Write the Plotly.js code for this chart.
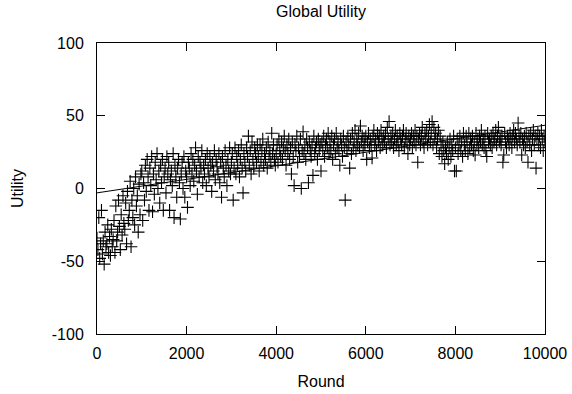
<!DOCTYPE html>
<html>
<head>
<meta charset="utf-8">
<script src="https://cdn.plot.ly/plotly-3.0.1.min.js"></script>
<style>html,body{margin:0;padding:0;background:#fff;}#chart{width:572px;height:394px;}</style>
</head>
<body>
<div id="chart"></div>
<script>
// Sampling step of the plotted rounds
const roundStep = 20;
// Global utility observed at each sampled round (0, 20, 40, ... 10000)
const utility = [
  // 0 - 980
  -34,-42,-20,-48,-38,-15,-45,-36,-52,-30,-40,
  -38,-25,-44,-33,-46,-28,-40,-35,-22,-44,
  -12,-36,-30,-8,-26,-42,-18,-32,-5,-24,
  -28,-10,-38,-2,-22,-15,5,-40,-8,-20,
  0,-25,8,-12,-5,-30,3,-18,10,
  // 1000 - 1980
  12,-22,4,-8,16,-2,20,8,-15,14,
  2,22,-16,10,-4,18,6,24,0,12,
  -10,16,4,20,-15,8,14,-3,22,10,
  18,-15,6,12,2,24,-20,16,8,-6,
  14,20,4,-21,10,18,0,22,-6,12,
  // 2000 - 2980
  8,-13,18,14,2,24,10,20,5,16,
  28,12,-4,22,8,18,14,26,4,16,
  10,20,2,24,14,8,22,16,-2,18,
  12,26,6,20,15,10,24,4,18,-6,
  22,14,8,26,16,2,20,12,28,10,
  // 3000 - 3980
  18,24,-8,14,28,10,22,16,26,8,
  20,30,14,-3,24,18,12,28,22,36,
  16,26,10,32,20,14,28,24,18,30,
  22,12,30,18,26,34,16,24,20,28,
  14,32,22,26,18,38,24,30,20,16,
  // 4000 - 4980
  24,30,18,34,26,22,32,20,28,36,
  26,16,30,24,34,20,28,10,32,22,
  2,30,26,36,18,28,22,34,0,26,
  39,24,30,20,34,28,4,32,26,22,
  30,9,36,24,28,32,20,34,26,30,
  // 5000 - 5980
  12,32,26,36,22,30,34,28,38,24,
  32,26,36,20,30,34,24,38,28,32,
  26,16,34,30,22,36,28,-8,32,26,
  36,30,14,34,24,38,28,32,40,26,
  34,30,38,28,43,32,36,26,34,30,
  // 6000 - 6980
  36,20,32,38,28,34,30,21,36,40,
  30,34,26,38,32,36,28,40,34,30,
  36,32,38,28,42,34,46,30,36,32,
  38,28,34,40,30,36,32,26,38,34,
  30,36,40,28,34,38,32,24,36,30,
  // 7000 - 7980
  34,38,28,36,32,40,30,36,18,34,
  38,30,36,42,32,28,38,34,40,30,
  36,44,32,38,46,30,42,34,38,28,
  34,40,24,36,30,22,32,26,17,28,
  24,32,20,28,34,22,30,26,36,12,
  // 8000 - 8980
  28,12,34,24,30,36,26,32,22,38,
  30,26,36,32,24,38,28,34,30,36,
  26,32,23,38,30,34,28,36,32,40,
  30,34,28,36,26,22,38,32,34,30,
  36,28,38,32,34,40,30,36,42,32,
  // 9000 - 10000
  34,30,36,18,23,38,32,28,36,34,
  30,38,34,28,36,40,32,38,34,30,
  45,36,32,38,23,34,30,36,28,38,
  32,18,36,30,38,26,34,40,30,36,
  14,34,38,30,36,28,40,34,26,36,
  32
];
// Fitted trend line endpoints
const fitRounds = [0, 10000];
const fitUtility = [-3, 43.5];
// Axis ticks
const xTicks = [0, 2000, 4000, 6000, 8000, 10000];
const yTicks = [-100, -50, 0, 50, 100];

const rounds = utility.map((_, i) => i * roundStep);

const font = {family: 'Liberation Sans, Arial, sans-serif', size: 16, color: '#000'};

const traces = [
  {
    x: rounds, y: utility, type: 'scatter', mode: 'markers',
    marker: {symbol: 'cross-thin-open', size: 9, color: '#000', line: {color: 'rgba(0,0,0,0.9)', width: 1.1}},
    hoverinfo: 'skip', showlegend: false
  },
  {
    x: fitRounds, y: fitUtility, type: 'scatter', mode: 'lines',
    line: {color: '#000', width: 1}, hoverinfo: 'skip', showlegend: false
  }
];

const axisCommon = {
  showgrid: false, zeroline: false, showline: true, mirror: 'allticks',
  linecolor: '#000', linewidth: 1, ticks: 'inside', ticklen: 8, tickwidth: 1, tickcolor: '#000',
  tickfont: font
};

const layout = {
  width: 572, height: 394,
  margin: {l: 97, r: 27, t: 43, b: 60},
  paper_bgcolor: '#fff', plot_bgcolor: '#fff',
  font: font,
  showlegend: false,
  title: {text: 'Global Utility', font: {family: font.family, size: 16, color: '#000'}, x: 0.5, xref: 'paper', y: 0.97, yref: 'container', yanchor: 'middle'},
  xaxis: Object.assign({}, axisCommon, {
    range: [0, 10000], tickvals: xTicks, ticktext: xTicks.map(String),
    ticklabelstandoff: 5,
    title: {text: 'Round', font: font, standoff: 14}
  }),
  yaxis: Object.assign({}, axisCommon, {
    range: [-100, 100], tickvals: yTicks, ticktext: yTicks.map(String),
    ticklabelstandoff: 9,
    title: {text: 'Utility', font: font, standoff: 24}
  })
};

Plotly.newPlot('chart', traces, layout, {staticPlot: true, displayModeBar: false});
</script>
</body>
</html>
